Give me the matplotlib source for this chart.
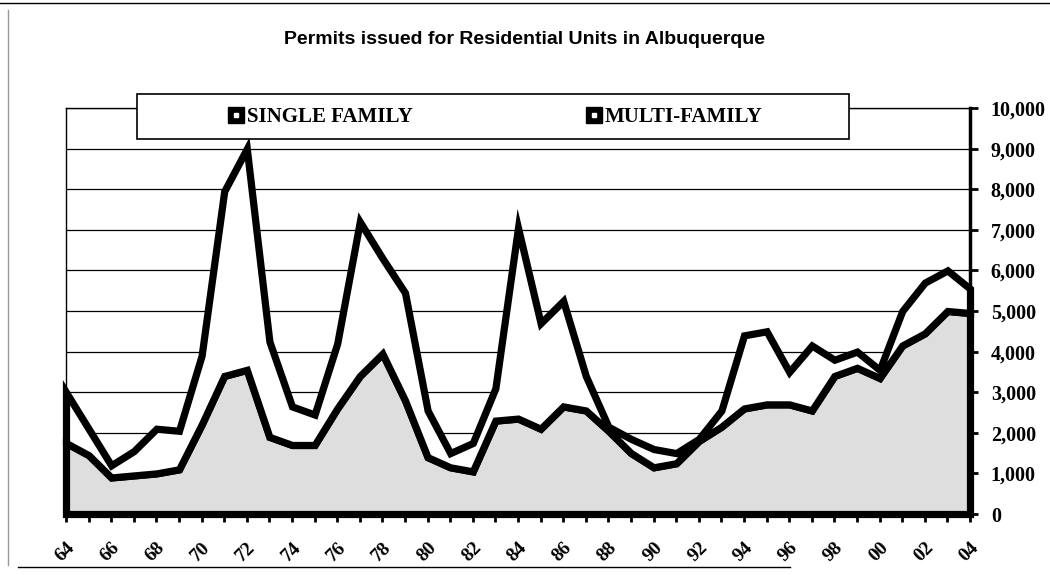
import matplotlib.pyplot as plt
from matplotlib.lines import Line2D
from matplotlib.patches import Rectangle
from matplotlib.legend_handler import HandlerTuple

years = list(range(1964, 2005))
even_labels = ["64", "66", "68", "70", "72", "74", "76", "78", "80", "82", "84",
               "86", "88", "90", "92", "94", "96", "98", "00", "02", "04"]

single_family = [1750, 1450, 900, 950, 1000, 1100, 2200, 3400, 3550, 1900,
                 1700, 1700, 2600, 3400, 3950, 2800, 1400, 1150, 1050, 2300,
                 2350, 2100, 2650, 2550, 2050, 1500, 1150, 1250, 1800, 2150,
                 2600, 2700, 2700, 2550, 3400, 3600, 3350, 4150, 4450, 5000,
                 4950]
multi_family = [1250, 650, 300, 600, 1100, 950, 1700, 4550, 5450, 2350,
                950, 750, 1600, 3800, 2350, 2650, 1150, 350, 700, 800,
                4700, 2600, 2600, 850, 100, 350, 450, 250, 50, 400,
                1800, 1800, 800, 1600, 400, 400, 200, 850, 1250, 1000,
                600]

y_ticks = [0, 1000, 2000, 3000, 4000, 5000, 6000, 7000, 8000, 9000, 10000]

serif = ["Liberation Serif", "DejaVu Serif"]

fig = plt.figure(figsize=(10.5, 5.75), dpi=100)
fig.patch.set_facecolor("white")
ax = fig.add_axes([66 / 1050, 1 - 514 / 575, (970 - 66) / 1050, (514 - 108) / 575])

polys = ax.stackplot(years, single_family, multi_family,
                     colors=["#dedede", "white"], edgecolor="black",
                     linewidth=5.2, zorder=3)
for p in polys:
    p.set_joinstyle("miter")
    p.set_clip_on(False)

ax.set_xlim(1964, 2004)
ax.set_ylim(0, 10000)
ax.set_axisbelow(True)
ax.yaxis.grid(True, color="black", linewidth=0.9)

ax.yaxis.tick_right()
ax.set_yticks(y_ticks)
ax.set_yticklabels([f"{v:,}" for v in y_ticks], fontfamily=serif,
                   fontweight="bold", fontsize=14.5)
ax.tick_params(axis="y", direction="out", length=6, width=2, pad=9)

ax.set_xticks(years)
xlabels = []
for i, y in enumerate(years):
    xlabels.append(even_labels[i // 2] if i % 2 == 0 else "")
ax.set_xticklabels(xlabels, fontfamily=serif, fontweight="bold", fontsize=14,
                   rotation=45, ha="right", rotation_mode="anchor")
ax.tick_params(axis="x", direction="out", length=6, width=2, pad=12)

for side in ["left", "top"]:
    ax.spines[side].set_linewidth(1)
ax.spines["bottom"].set_linewidth(3.5)
ax.spines["right"].set_linewidth(2.5)
ax.spines["bottom"].set_zorder(5)
ax.spines["right"].set_zorder(5)

fig.text(0.5, 1 - 40 / 575, "Permits issued for Residential Units in Albuquerque",
         ha="center", va="center", fontsize=14, fontweight="bold",
         fontfamily="Liberation Sans")

# legend box
box = Rectangle((137 / 1050, 1 - 139 / 575), (849 - 137) / 1050, 45 / 575,
                transform=fig.transFigure, facecolor="white", edgecolor="black",
                linewidth=1.2, zorder=10)
fig.add_artist(box)

def square_handle():
    outer = Line2D([], [], marker="s", color="black", markersize=12, linestyle="none")
    inner = Line2D([], [], marker="s", markerfacecolor="white", markeredgecolor="white",
                   markersize=2.8, linestyle="none")
    return (outer, inner)

leg = fig.legend([square_handle(), square_handle()], ["SINGLE FAMILY", "MULTI-FAMILY"],
                 handler_map={tuple: HandlerTuple(ndivide=1)},
                 loc="center", bbox_to_anchor=(495 / 1050, 1 - 117 / 575),
                 ncol=2, frameon=False, columnspacing=8.3, handlelength=0.8,
                 handletextpad=0.1, prop={"family": serif, "weight": "bold", "size": 15})
leg.set_zorder(11)

# scanned page frame
fig.add_artist(Line2D([0, 1], [1 - 3 / 575, 1 - 3 / 575], transform=fig.transFigure,
                      color="black", linewidth=1))
fig.add_artist(Line2D([8 / 1050, 8 / 1050], [1 - 10 / 575, 1 - 565 / 575],
                      transform=fig.transFigure, color="#999999", linewidth=1))
fig.add_artist(Line2D([18 / 1050, 790 / 1050], [1 - 567 / 575, 1 - 567 / 575],
                      transform=fig.transFigure, color="black", linewidth=1))

fig.savefig("out.png", dpi=100, facecolor="white")
